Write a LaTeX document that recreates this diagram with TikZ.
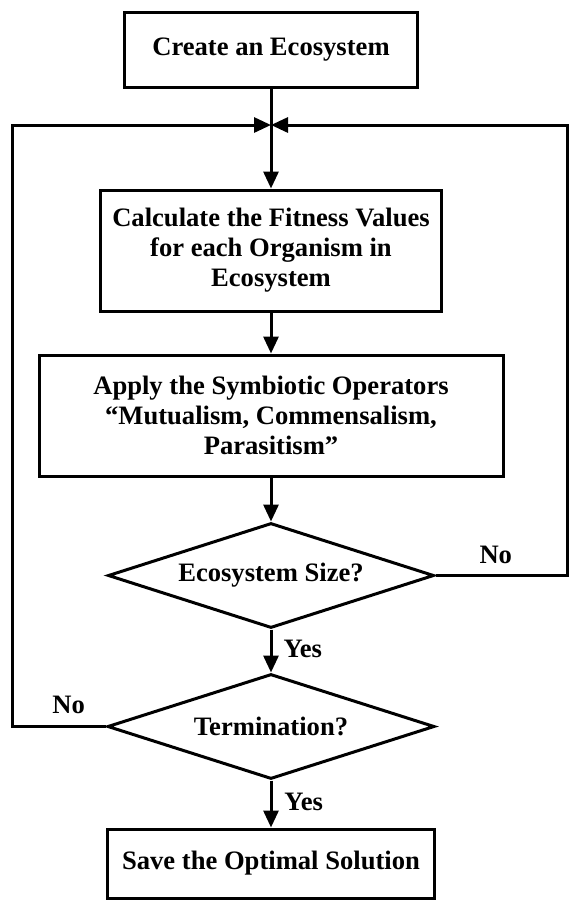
\documentclass[tikz,border=0pt]{standalone}
\usepackage{fontspec}
\setmainfont{Liberation Serif}
\usetikzlibrary{shapes.geometric,arrows.meta}
\begin{document}
\begin{tikzpicture}[x=0.5pt,y=-0.5pt,line width=1.5pt,
  txt/.style={font=\bfseries\fontsize{13.3}{15}\selectfont},
  box/.style={draw,rectangle,align=center,inner sep=0pt,txt},
  dec/.style={draw,diamond,shape aspect=3.1,inner sep=0pt,align=center,txt},
  lab/.style={anchor=base west,inner sep=0pt,txt},
  arr/.style={-{Triangle[length=8.5pt,width=7.5pt]}}]
\useasboundingbox (0,0) rectangle (570,902);
\node[box,minimum width=146.5pt,minimum height=37.5pt] (b1) at (271,49.5) {Create an Ecosystem};
\node[box,minimum width=170.5pt,minimum height=60.5pt] (b2) at (271,250.5) {Calculate the Fitness Values\\for each Organism in\\Ecosystem};
\node[box,minimum width=232pt,minimum height=60.5pt] (b3) at (271,415.5) {Apply the Symbiotic Operators\\“Mutualism, Commensalism,\\Parasitism”};
\node[dec,minimum width=163pt,minimum height=52.5pt] (d1) at (271,575.5) {Ecosystem Size?};
\node[dec,minimum width=163.5pt,minimum height=52.5pt] (d2) at (271,726.5) {Termination?};
\node[box,minimum width=163.5pt,minimum height=34.5pt] (b4) at (271,863.5) {Save the Optimal Solution};
\coordinate (m) at (271,125);
\coordinate (L) at (12,125);
\coordinate (R) at (567,125);
\draw[arr] (b1.south) -- (b2.north);
\draw[arr] (b2.south) -- (b3.north);
\draw[arr] (b3.south) -- (d1.north);
\draw[arr] (d1.south) -- (d2.north);
\draw[arr] (d2.south) -- (b4.north);
\draw[arr] (d1.east) -| (R) -- (m);
\draw[arr] (d2.west) -| (L) -- (m);
\node[lab] (y1) at (282,657) {Yes};
\node[lab] (y2) at (283,810) {Yes};
\node[lab] (n1) at (478,563) {No};
\node[lab] (n2) at (51,713) {No};
\end{tikzpicture}
\end{document}
